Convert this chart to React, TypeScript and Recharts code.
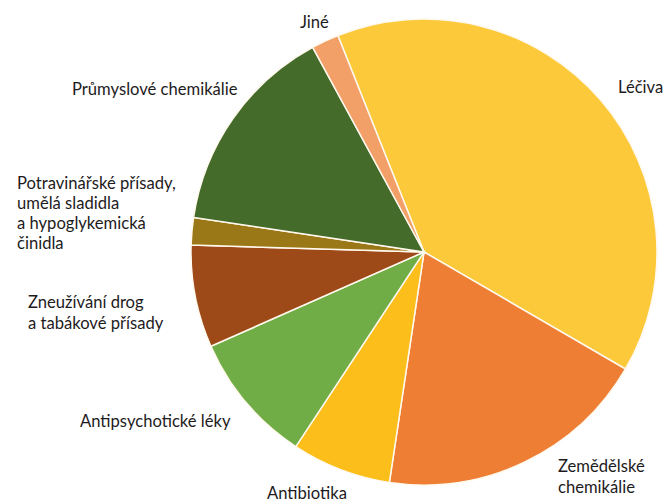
import { PieChart, Pie, Cell } from 'recharts'

// slices listed clockwise, starting at the Léčiva edge near 12 o'clock
const categories = [
  'Léčiva',
  'Zemědělské chemikálie',
  'Antibiotika',
  'Antipsychotické léky',
  'Zneužívání drog a tabákové přísady',
  'Potravinářské přísady, umělá sladidla a hypoglykemická činidla',
  'Průmyslové chemikálie',
  'Jiné',
]
const shares = [39.4, 19.0, 6.9, 9.1, 7.1, 1.9, 14.7, 1.9]
const labelLines = [
  ['Léčiva'],
  ['Zemědělské', 'chemikálie'],
  ['Antibiotika'],
  ['Antipsychotické léky'],
  ['Zneužívání drog', 'a tabákové přísady'],
  ['Potravinářské přísady,', 'umělá sladidla', 'a hypoglykemická', 'činidla'],
  ['Průmyslové chemikálie'],
  ['Jiné'],
]

const colors = ['#FCC93B', '#EE7E33', '#FBBE1A', '#71AD46', '#9E4A18', '#9B7817', '#456B2A', '#F29F68']

// label text start relative to the pie centre
const labelPos = [
  { dx: 194, dy: -159, lh: 21 },
  { dx: 134, dy: 220, lh: 21 },
  { dx: -157, dy: 247, lh: 21 },
  { dx: -344, dy: 175, lh: 21 },
  { dx: -396, dy: 56, lh: 21 },
  { dx: -407, dy: -63, lh: 20 },
  { dx: -352, dy: -157, lh: 21 },
  { dx: -124, dy: -224, lh: 21 },
]

const data = categories.map((name, i) => ({ name, value: shares[i] }))

const renderLabel = (props: any) => {
  const { cx, cy, index } = props
  const pos = labelPos[index]
  const lines = labelLines[index]
  return (
    <text
      x={cx + pos.dx}
      y={cy + pos.dy}
      fill="#1E1B1C"
      fontSize={16.6}
      fontFamily="Lato, 'Open Sans', sans-serif"
      textAnchor="start"
    >
      {lines.map((line, j) => (
        <tspan key={j} x={cx + pos.dx} dy={j === 0 ? 0 : pos.lh}>
          {line}
        </tspan>
      ))}
    </text>
  )
}

export default function App() {
  return (
    <div style={{ position: 'absolute', left: 0, top: 0, width: 667, height: 502, background: '#fff' }}>
      <PieChart width={667} height={502} margin={{ top: 0, right: 0, bottom: 0, left: 0 }}>
        <Pie
          data={data}
          dataKey="value"
          nameKey="name"
          cx={424}
          cy={252}
          outerRadius={233}
          startAngle={111.7}
          endAngle={-248.3}
          stroke="#FFF9EE"
          strokeWidth={1.5}
          label={renderLabel}
          labelLine={false}
          isAnimationActive={false}
        >
          {data.map((d, i) => (
            <Cell key={d.name} fill={colors[i]} />
          ))}
        </Pie>
      </PieChart>
    </div>
  )
}
